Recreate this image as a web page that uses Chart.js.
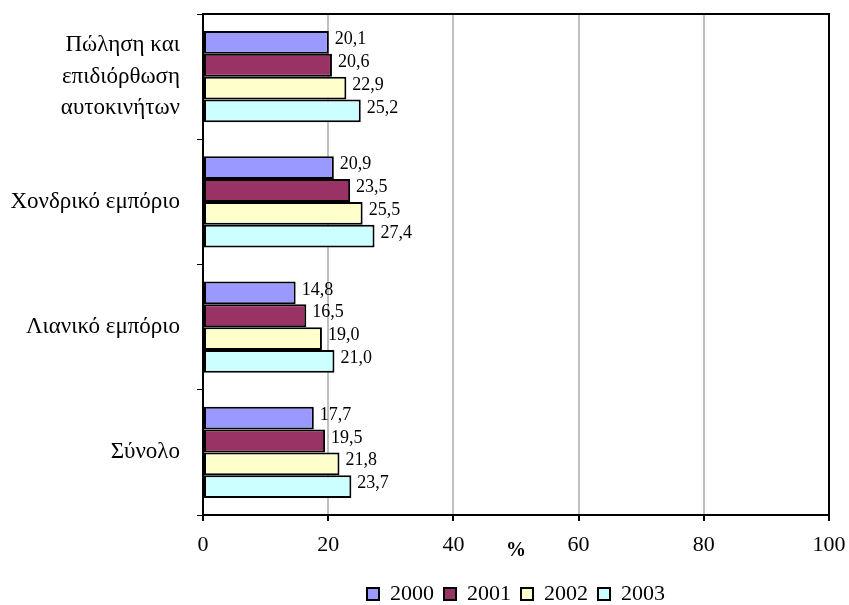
<!DOCTYPE html>
<html>
<head>
<meta charset="utf-8">
<script src="https://cdn.jsdelivr.net/npm/chart.js@4/dist/chart.umd.min.js"></script>
<style>
html,body{margin:0;padding:0;background:#fff;}
#wrap{width:849px;height:605px;}
</style>
</head>
<body>
<div id="wrap"><canvas id="c" width="849" height="605"></canvas></div>
<script>
const categories = [["Πώληση και","επιδιόρθωση","αυτοκινήτων"], "Χονδρικό εμπόριο", "Λιανικό εμπόριο", "Σύνολο"];
const seriesNames = ["2000", "2001", "2002", "2003"];
const values2000 = [20.1, 20.9, 14.8, 17.7];
const values2001 = [20.6, 23.5, 16.5, 19.5];
const values2002 = [22.9, 25.5, 19.0, 21.8];
const values2003 = [25.2, 27.4, 21.0, 23.7];
const xTicks = [0, 20, 40, 60, 80, 100];
const colors = ["#9999FF", "#993366", "#FFFFCC", "#CCFFFF"];
const allValues = [values2000, values2001, values2002, values2003];

const FONT = "'Liberation Serif', 'Times New Roman', serif";

const labelPlugin = {
  id: 'valLabels',
  afterDatasetsDraw(chart) {
    const ctx = chart.ctx;
    ctx.save();
    ctx.font = "18px " + FONT;
    ctx.fillStyle = "#000";
    ctx.textAlign = "left";
    ctx.textBaseline = "middle";
    chart.data.datasets.forEach((ds, i) => {
      const meta = chart.getDatasetMeta(i);
      meta.data.forEach((el, j) => {
        const v = ds.data[j];
        ctx.fillText(v.toFixed(1).replace('.', ','), el.x + 6, el.y - 3);
      });
    });
    ctx.restore();
  }
};
const framePlugin = {
  id: 'frame',
  afterDraw(chart) {
    const a = chart.chartArea, ctx = chart.ctx;
    ctx.save();
    ctx.strokeStyle = "#000";
    ctx.lineWidth = 2;
    ctx.strokeRect(a.left, a.top, a.right - a.left, a.bottom - a.top);
    ctx.restore();
  }
};

new Chart(document.getElementById('c'), {
  type: 'bar',
  data: {
    labels: categories,
    datasets: seriesNames.map((n, i) => ({
      label: n,
      data: allValues[i],
      backgroundColor: colors[i],
      borderColor: "#000",
      borderWidth: 2,
      borderSkipped: false,
      categoryPercentage: 0.727,
      barPercentage: 1.0
    }))
  },
  options: {
    indexAxis: 'y',
    responsive: false,
    animation: false,
    devicePixelRatio: 1,
    layout: { padding: { left: 0, right: 20, top: 14, bottom: -10 } },
    plugins: {
      title: { display: false },
      tooltip: { enabled: false },
      legend: {
        position: 'bottom',
        fullSize: false,
        labels: {
          font: { family: FONT, size: 22 },
          color: "#000",
          boxWidth: 12,
          boxHeight: 12,
          padding: 10
        }
      }
    },
    scales: {
      x: {
        min: 0, max: 100,
        afterBuildTicks(s) { s.ticks = xTicks.map(v => ({ value: v })); },
        afterFit(s) { s.height = 58; s.paddingLeft = 0; s.paddingRight = 0; },
        grid: { color: "#C0C0C0", lineWidth: 2, tickColor: "#000", tickLength: 6, drawOnChartArea: true },
        border: { color: "#000", width: 2 },
        ticks: { font: { family: FONT, size: 22 }, color: "#000", padding: 11, maxRotation: 0 },
        title: { display: true, text: "%", font: { family: FONT, size: 20, weight: 'bold' }, color: "#000", padding: { top: 0, bottom: 10 } }
      },
      y: {
        afterFit(s) { s.width = 203; s.paddingTop = 0; s.paddingBottom = 0; },
        grid: { display: true, drawOnChartArea: false, tickColor: "#000", tickLength: 6, offset: true },
        border: { color: "#000", width: 2 },
        ticks: { font: { family: FONT, size: 23, lineHeight: 1.36 }, color: "#000", padding: 17 }
      }
    }
  },
  plugins: [labelPlugin, framePlugin]
});
</script>
</body>
</html>
